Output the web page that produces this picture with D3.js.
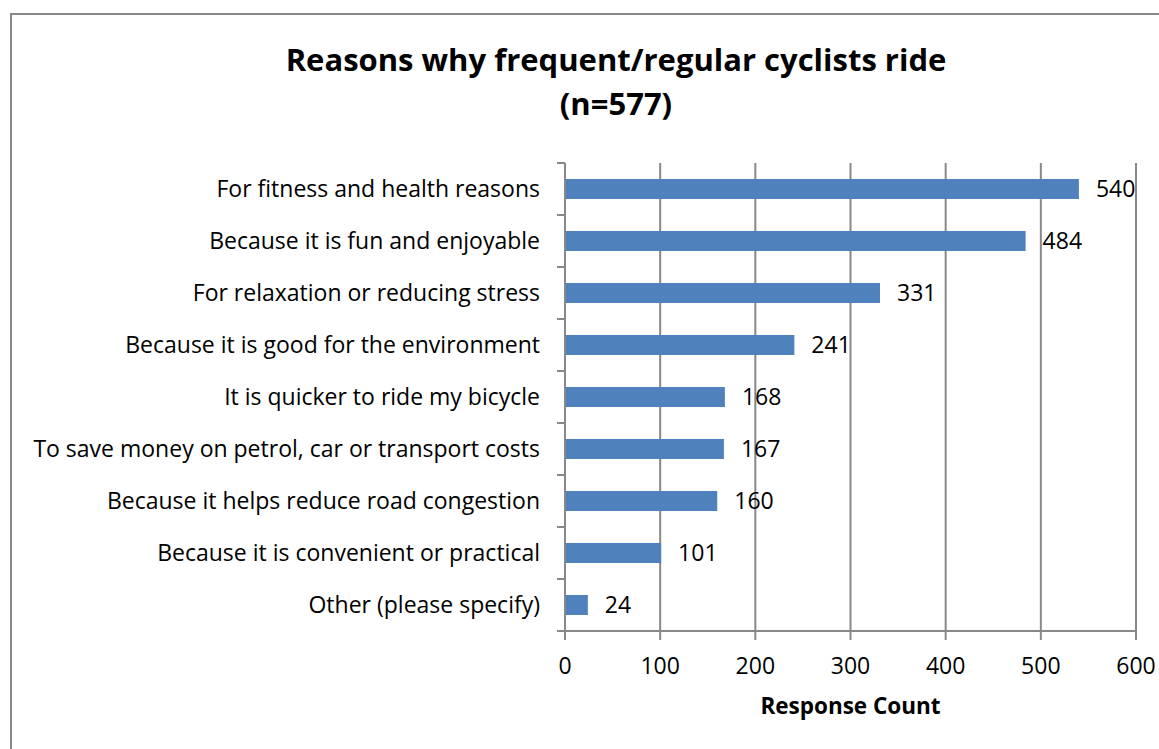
<!DOCTYPE html>
<html>
<head>
<meta charset="utf-8">
<script src="https://cdn.jsdelivr.net/npm/d3@7"></script>
<style>
  body { margin: 0; background: #fff; }
  text { font-family: "Open Sans", sans-serif; fill: #000; }
</style>
</head>
<body>
<svg id="chart" width="1159" height="749"></svg>
<script>
// data
var categories = [
    "For fitness and health reasons",
    "Because it is fun and enjoyable",
    "For relaxation or reducing stress",
    "Because it is good for the environment",
    "It is quicker to ride my bicycle",
    "To save money on petrol, car or transport costs",
    "Because it helps reduce road congestion",
    "Because it is convenient or practical",
    "Other (please specify)"
];
var counts = [540, 484, 331, 241, 168, 167, 160, 101, 24];
var xTicks = [0, 100, 200, 300, 400, 500, 600];
var titleLines = ["Reasons why frequent/regular cyclists ride", "(n=577)"];

var svg = d3.select('#chart');
var plotLeft = 565, plotRight = 1136, plotTop = 163, plotBottom = 631;
var labelSize = '23px';

// outer frame
svg.append('rect')
    .attr('x', 11).attr('y', 14)
    .attr('width', 1160).attr('height', 760)
    .attr('fill', 'none').attr('stroke', '#888').attr('stroke-width', 2);

var x = d3.scaleLinear().domain([0, 600]).range([plotLeft, plotRight]);
var y = d3.scaleBand().domain(categories).range([plotTop, plotBottom]).paddingInner(0.615).paddingOuter(0.3075);

// gridlines
svg.append('g').selectAll('line')
    .data(xTicks.slice(1))
    .enter().append('line')
    .attr('x1', function(d) { return x(d); }).attr('x2', function(d) { return x(d); })
    .attr('y1', plotTop).attr('y2', plotBottom)
    .attr('stroke', '#888').attr('stroke-width', 2);

// bars
svg.append('g').selectAll('rect')
    .data(counts)
    .enter().append('rect')
    .attr('x', x(0))
    .attr('y', function(d, i) { return y(categories[i]); })
    .attr('width', function(d) { return x(d) - x(0); })
    .attr('height', y.bandwidth())
    .attr('fill', '#4F81BD');

// value labels
svg.append('g').selectAll('text')
    .data(counts)
    .enter().append('text')
    .attr('x', function(d) { return x(d) + 17; })
    .attr('y', function(d, i) { return y(categories[i]) + y.bandwidth() / 2; })
    .attr('dy', '0.35em')
    .style('font-size', labelSize)
    .text(function(d) { return d; });

// y axis: ticks at category boundaries
var step = (plotBottom - plotTop) / categories.length;
var yAxis = svg.append('g');
yAxis.append('line')
    .attr('x1', plotLeft).attr('x2', plotLeft).attr('y1', plotTop).attr('y2', plotBottom)
    .attr('stroke', '#888').attr('stroke-width', 2);
yAxis.selectAll('line.tick')
    .data(d3.range(categories.length + 1))
    .enter().append('line')
    .attr('class', 'tick')
    .attr('x1', plotLeft - 8).attr('x2', plotLeft)
    .attr('y1', function(d) { return plotTop + d * step; })
    .attr('y2', function(d) { return plotTop + d * step; })
    .attr('stroke', '#888').attr('stroke-width', 2);
yAxis.selectAll('text')
    .data(categories)
    .enter().append('text')
    .attr('x', 540)
    .attr('y', function(d) { return y(d) + y.bandwidth() / 2; })
    .attr('dy', '0.35em')
    .attr('text-anchor', 'end')
    .style('font-size', labelSize)
    .text(function(d) { return d; });

// x axis
var xAxis = svg.append('g');
xAxis.append('line')
    .attr('x1', plotLeft).attr('x2', plotRight).attr('y1', plotBottom).attr('y2', plotBottom)
    .attr('stroke', '#888').attr('stroke-width', 2);
xAxis.selectAll('line.tick')
    .data(xTicks)
    .enter().append('line')
    .attr('class', 'tick')
    .attr('x1', function(d) { return x(d); }).attr('x2', function(d) { return x(d); })
    .attr('y1', plotBottom).attr('y2', plotBottom + 9)
    .attr('stroke', '#888').attr('stroke-width', 2);
xAxis.selectAll('text')
    .data(xTicks)
    .enter().append('text')
    .attr('x', function(d) { return x(d); })
    .attr('y', 666)
    .attr('dy', '0.35em')
    .attr('text-anchor', 'middle')
    .style('font-size', labelSize)
    .text(function(d) { return d; });

svg.append('text')
    .attr('x', x(300)).attr('y', 706)
    .attr('dy', '0.35em')
    .attr('text-anchor', 'middle')
    .style('font-size', '22.5px').style('font-weight', 'bold')
    .text('Response Count');

// title
svg.selectAll('text.title')
    .data(titleLines)
    .enter().append('text')
    .attr('class', 'title')
    .attr('x', 616)
    .attr('y', function(d, i) { return 60 + i * 44; })
    .attr('dy', '0.35em')
    .attr('text-anchor', 'middle')
    .style('font-size', '31px').style('font-weight', 'bold')
    .text(function(d) { return d; });
</script>
</body>
</html>
